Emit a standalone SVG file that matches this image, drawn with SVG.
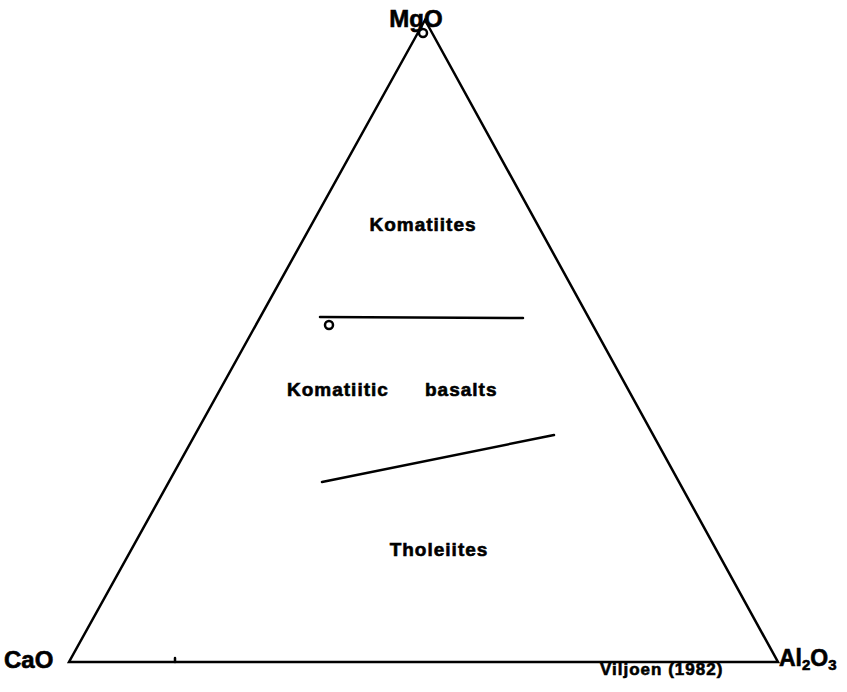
<svg xmlns="http://www.w3.org/2000/svg" width="847" height="692" viewBox="0 0 847 692">
<style>
.ln{stroke:#000;fill:none;stroke-width:2.5;stroke-linecap:round}
.lb{font-family:"Liberation Sans","DejaVu Sans",sans-serif;font-weight:bold;fill:#000;stroke:#000;stroke-width:0.6}
</style>
<rect width="847" height="692" fill="#fff"/>
<g id="connectors">
<polygon class="ln" points="425,20 69,662 778,662"/>
<line class="ln" x1="320" y1="317" x2="523" y2="318"/>
<line class="ln" x1="322" y1="482" x2="554" y2="435"/>
<line class="ln" x1="175" y1="658" x2="175" y2="662" stroke-width="1.5"/>
<circle cx="423" cy="33" r="4" class="ln" stroke-width="2"/>
<circle cx="329" cy="325" r="4" class="ln" stroke-width="2"/>
</g>
<g id="node-mgo"><text class="lb" x="416" y="27" font-size="24" text-anchor="middle">MgO</text></g>
<g id="node-cao"><text class="lb" x="4" y="668" font-size="24">CaO</text></g>
<g id="node-al2o3"><text class="lb" x="779" y="666" font-size="23">Al<tspan font-size="15" dy="4">2</tspan><tspan dy="-4">O</tspan><tspan font-size="15" dy="4">3</tspan></text></g>
<g id="node-komatiites"><text class="lb" x="423" y="231" font-size="19" letter-spacing="1" text-anchor="middle">Komatiites</text></g>
<g id="node-komatiitic-basalts"><text class="lb" x="287" y="396" font-size="19" letter-spacing="1">Komatiitic<tspan x="425">basalts</tspan></text></g>
<g id="node-tholeiites"><text class="lb" x="439" y="556" font-size="19" letter-spacing="1" text-anchor="middle">Tholeiites</text></g>
<g id="node-source"><text class="lb" x="600" y="675" font-size="17" letter-spacing="1">Viljoen (1982)</text></g>
</svg>
